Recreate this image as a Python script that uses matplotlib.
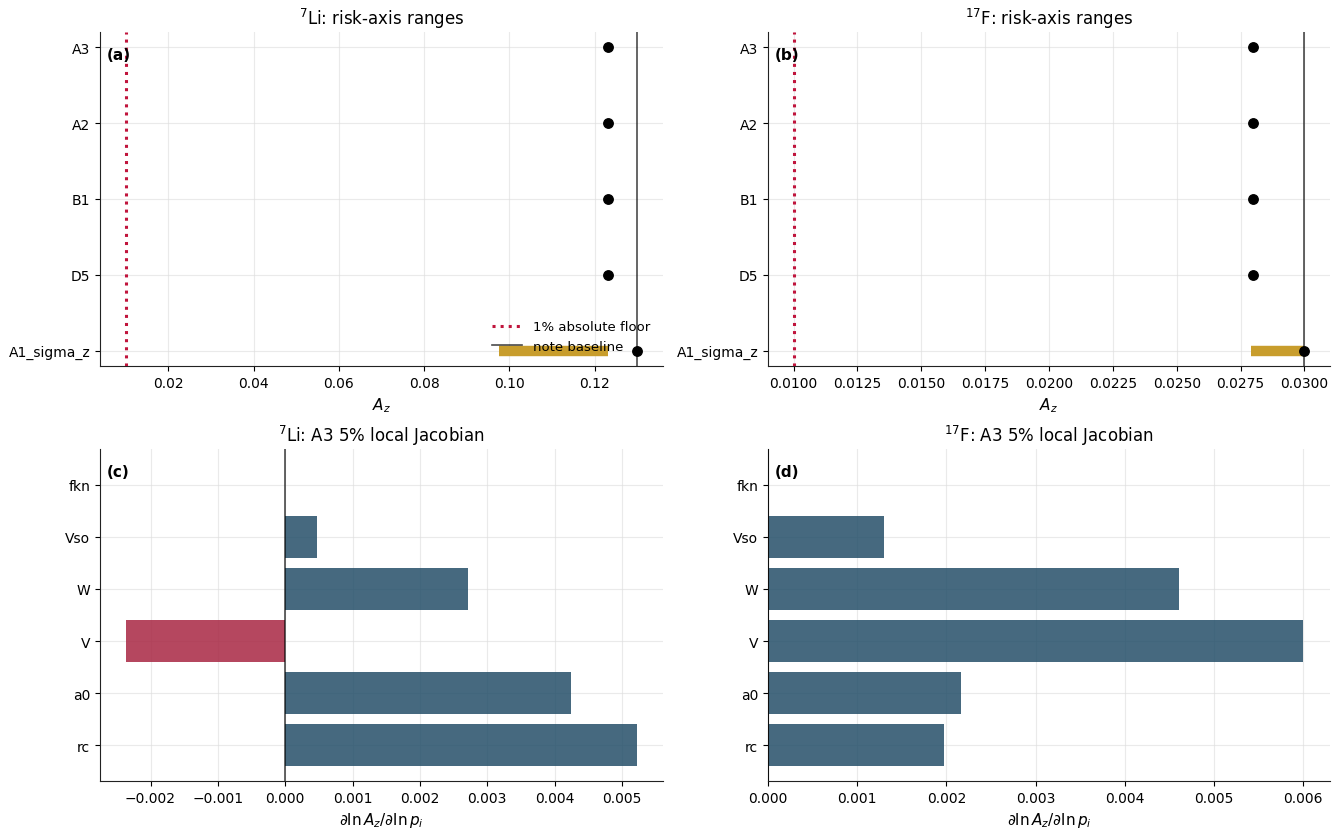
import matplotlib
matplotlib.use("Agg")
import matplotlib.pyplot as plt

# risk-axis ranges: low / high per case, plus the central point
risk_cases = ["A1_sigma_z", "D5", "B1", "A2", "A3"]
li_low = [0.0975, 0.1231, 0.1231, 0.1231, 0.1231]
li_high = [0.1231, 0.1231, 0.1231, 0.1231, 0.1231]
li_point = [0.1300, 0.1231, 0.1231, 0.1231, 0.1231]
f_low = [0.0279, 0.02797, 0.02797, 0.02797, 0.02797]
f_high = [0.0300, 0.02797, 0.02797, 0.02797, 0.02797]
f_point = [0.0300, 0.02797, 0.02797, 0.02797, 0.02797]
li_baseline = 0.13
f_baseline = 0.03
abs_floor = 0.01

# local Jacobian of A3 (5% steps)
jac_params = ["rc", "a0", "V", "W", "Vso", "fkn"]
li_jac = [0.00523, 0.00425, -0.00237, 0.00271, 0.00047, 0.0]
f_jac = [0.00197, 0.00216, 0.00600, 0.00461, 0.00130, 0.0]

BLUE = "#254f69"
RED = "#a82743"
GOLD = "#c89d2c"
FLOOR = "#c0143c"


def style_axes(ax):
    for s in ("top", "right"):
        ax.spines[s].set_visible(False)
    for s in ("left", "bottom"):
        ax.spines[s].set_color("#222222")
    ax.grid(True, color="#dddddd", lw=0.8, alpha=0.6)
    ax.set_axisbelow(True)
    ax.tick_params(labelsize=10)


def risk_panel(ax, low, high, point, baseline, title, tag, legend=False):
    y = list(range(len(risk_cases)))
    ax.hlines(y, low, high, color=GOLD, lw=7.5, zorder=2)
    ax.plot(point, y, "o", color="black", ms=6.8, zorder=4)
    ax.axvline(abs_floor, color=FLOOR, ls=":", lw=2.2, label="1% absolute floor", zorder=3)
    ax.axvline(baseline, color="black", lw=1.2, alpha=0.7, label="note baseline", zorder=3)
    ax.set_yticks(y)
    ax.set_yticklabels(risk_cases)
    ax.set_ylim(-0.2, len(y) - 0.8)
    ax.set_xlabel("$A_z$", fontsize=11)
    ax.set_title(title, fontsize=12)
    ax.text(0.012, 0.955, tag, transform=ax.transAxes, fontsize=11,
            fontweight="bold", va="top")
    if legend:
        ax.legend(loc="lower right", frameon=False, fontsize=9.5,
                  borderaxespad=0.6, handlelength=2.3)
    style_axes(ax)


def jac_panel(ax, vals, title, tag):
    y = list(range(len(jac_params)))
    colors = [RED if v < 0 else BLUE for v in vals]
    ax.barh(y, vals, height=0.8, color=colors, alpha=0.85, zorder=2)
    ax.axvline(0, color="black", lw=1.2, alpha=0.7, zorder=3)
    ax.set_yticks(y)
    ax.set_yticklabels(jac_params)
    ax.set_xlabel(r"$\partial\ln A_z/\partial\ln p_i$", fontsize=11)
    ax.set_title(title, fontsize=12)
    ax.text(0.012, 0.955, tag, transform=ax.transAxes, fontsize=11,
            fontweight="bold", va="top")
    style_axes(ax)


fig = plt.figure(figsize=(13.44, 8.37), dpi=100)
W, H = 1344, 837


def add(l, r, t, b):
    return fig.add_axes([l / W, 1 - b / H, (r - l) / W, (b - t) / H])


ax_a = add(100, 663, 33, 367)
ax_b = add(768, 1330, 33, 367)
ax_c = add(100, 663, 450, 782)
ax_d = add(768, 1330, 450, 782)

risk_panel(ax_a, li_low, li_high, li_point, li_baseline,
           "$^{7}$Li: risk-axis ranges", "(a)", legend=True)
risk_panel(ax_b, f_low, f_high, f_point, f_baseline,
           "$^{17}$F: risk-axis ranges", "(b)")
ax_b.xaxis.set_major_formatter(matplotlib.ticker.FormatStrFormatter("%.4f"))
jac_panel(ax_c, li_jac, "$^{7}$Li: A3 5% local Jacobian", "(c)")
jac_panel(ax_d, f_jac, "$^{17}$F: A3 5% local Jacobian", "(d)")

fig.savefig("out.png", dpi=100)
